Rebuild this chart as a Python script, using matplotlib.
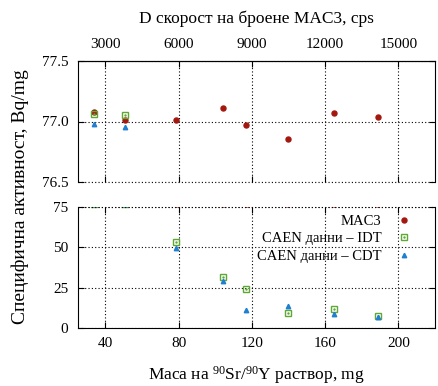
#!/usr/bin/env python3
import numpy as np
import matplotlib
matplotlib.use("Agg")
import matplotlib.pyplot as plt
from matplotlib.legend_handler import HandlerTuple

plt.rcParams["font.family"] = ["Liberation Serif", "DejaVu Serif"]
plt.rcParams["mathtext.fontset"] = "custom"
plt.rcParams["mathtext.rm"] = "Liberation Serif"
plt.rcParams["mathtext.it"] = "Liberation Serif:italic"
plt.rcParams["font.size"] = 11

# mass of 90Sr/90Y solution, mg
mass = [34, 50.7, 78.6, 104, 117, 139.5, 164.8, 188.9]
# specific activity, Bq/mg
mac3 = [77.077, 77.013, 77.016, 77.11, 76.975, 76.853, 77.074, 77.038]
idt = [77.06, 77.055, 53.2, 31.4, 24.1, 9.0, 11.5, 7.5]
cdt = [76.978, 76.955, 49.7, 29.1, 11.0, 13.5, 8.7, 6.9]

cps_per_mg = 75.0
mass_ticks = [40, 80, 120, 160, 200]
cps_ticks = [3000, 6000, 9000, 12000, 15000]

c_mac3 = "#a3170f"
c_idt = "#5fa836"
c_cdt = "#1f7fd0"
grid_ls = (0, (1, 2))

W, H = 439, 386
fig = plt.figure(figsize=(W / 100, H / 100), dpi=100)
ax1 = fig.add_axes([78 / W, 1 - 182 / H, 357 / W, 121 / H])
ax2 = fig.add_axes([78 / W, 1 - 327.7 / H, 357 / W, 120.5 / H])


def draw(ax):
    ax.plot(mass, mac3, "o", color=c_mac3, ms=3.6, ls="none")
    ax.plot(mass, idt, "s", mfc="none", mec=c_idt, mew=1.0, ms=5, ls="none")
    ax.plot(mass, idt, ".", color=c_idt, ms=1.5, ls="none")
    ax.plot(mass, cdt, "^", color=c_cdt, ms=3.2, ls="none")
    ax.set_xlim(25, 220)
    ax.set_xticks(mass_ticks)
    ax.grid(True, ls=grid_ls, color="black", lw=0.8)
    ax.tick_params(direction="in", length=4, left=True, right=True,
                   top=True, bottom=True, labelsize=11, pad=7)


draw(ax1)
draw(ax2)

ax1.set_ylim(76.5, 77.5)
ax1.set_yticks([76.5, 77.0, 77.5])
ax1.set_yticklabels(["76.5", "77.0", "77.5"])
ax1.spines["bottom"].set_visible(False)
ax1.axhline(76.5, ls=grid_ls, color="black", lw=0.8, clip_on=False)
ax1.tick_params(top=False, labelbottom=False)

top = ax1.secondary_xaxis("top", functions=(lambda m: m * cps_per_mg, lambda c: c / cps_per_mg))
top.set_xticks(cps_ticks)
top.tick_params(direction="in", length=4, labelsize=11, pad=7)
top.set_xlabel("D скорост на броене MAC3, cps", fontsize=12.5, labelpad=11)

ax2.set_ylim(0, 75)
ax2.set_yticks([0, 25, 50, 75])
ax2.spines["top"].set_visible(False)
ax2.axhline(75, ls=grid_ls, color="black", lw=0.8, clip_on=False)
ax2.set_xlabel("Маса на $^{90}$Sr/$^{90}$Y раствор, mg", fontsize=12.5, labelpad=10)

fig.text(20 / W, 1 - 197 / H, "Специфична активност, Bq/mg", rotation=90,
         ha="center", va="center", fontsize=14)

h_mac3 = plt.Line2D([], [], marker="o", color=c_mac3, ms=3.6, ls="none")
h_sq = plt.Line2D([], [], marker="s", mfc="none", mec=c_idt, mew=1.0, ms=5, ls="none")
h_dot = plt.Line2D([], [], marker=".", color=c_idt, ms=1.5, ls="none")
h_cdt = plt.Line2D([], [], marker="^", color=c_cdt, ms=3.2, ls="none")
leg = ax2.legend([h_mac3, (h_sq, h_dot), h_cdt],
                 ["MAC3", "CAEN данни – IDT", "CAEN данни – CDT"],
                 handler_map={tuple: HandlerTuple(ndivide=1, pad=0)},
                 loc="upper right", bbox_to_anchor=(0.945, 0.94), markerfirst=False,
                 frameon=False, fontsize=10.5, handlelength=1.5, handletextpad=0.8,
                 labelspacing=0.3, borderaxespad=0, borderpad=0)

fig.savefig("out.png", dpi=100)
